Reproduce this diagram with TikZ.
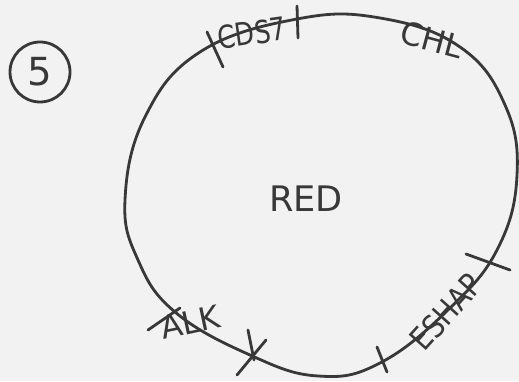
\documentclass[tikz,border=0pt]{standalone}
\usepackage{fontspec}
\setsansfont{DejaVu Sans}

\begin{document}
\begin{tikzpicture}[
    x=0.02cm, y=-0.02cm,
    pen/.style={draw=black!78, line width=1.6pt, line cap=round, line join=round},
    hatch/.style={pen},
    scrawl/.style={text=black!78, font=\sffamily\fontsize{18}{20}\selectfont, inner sep=0pt}
]
% paper
\fill[black!5] (0,0) rectangle (519,381);
\useasboundingbox (0,0) rectangle (519,381);

% the ring
\draw[pen] plot[smooth cycle, tension=0.7] coordinates {
  (125,200) (145,117) (200,52) (297,19) (380,18) (460,47) (505,105)
  (517,175) (498,248) (450,308) (380,363) (318,376) (250,355) (175,312)
  (138,260)};

% marks on the ring
\coordinate (t1a) at (207,32);  \coordinate (t1b) at (223,67);
\coordinate (t2a) at (297,6);   \coordinate (t2b) at (298,38);
\coordinate (t3a) at (148,330); \coordinate (t3b) at (180,308);
\coordinate (t4a) at (248,330); \coordinate (t4b) at (254,360);
\coordinate (t4c) at (266,340); \coordinate (t4d) at (237,375);
\coordinate (t5a) at (377,347); \coordinate (t5b) at (387,372);
\coordinate (t6a) at (466,254); \coordinate (t6b) at (510,270);
\draw[hatch] (t1a) -- (t1b);
\draw[hatch] (t2a) -- (t2b);
\draw[hatch] (t3a) -- (t3b);
\draw[hatch] (t4a) -- (t4b);
\draw[hatch] (t4c) -- (t4d);
\draw[hatch] (t5a) -- (t5b);
\draw[hatch] (t6a) -- (t6b);

% labels
\node[scrawl, rotate=8, xscale=0.8] (cds) at (252,33) {CDS7};
\node[scrawl, rotate=-15] (chl) at (432,40) {CHL};
\node[scrawl, rotate=12] (alk) at (190,322) {ALK};
\node[scrawl, rotate=48, xscale=0.85] (eshap) at (446,312) {ESHAP};
\node[scrawl, font=\sffamily\fontsize{20}{22}\selectfont] (red) at (306,199) {RED};

% page number
\node[pen, circle, minimum size=1.2cm, inner sep=0pt, text=black!78,
      font=\sffamily\fontsize{22}{24}\selectfont] (num) at (40,72) {5};
\end{tikzpicture}
\end{document}
